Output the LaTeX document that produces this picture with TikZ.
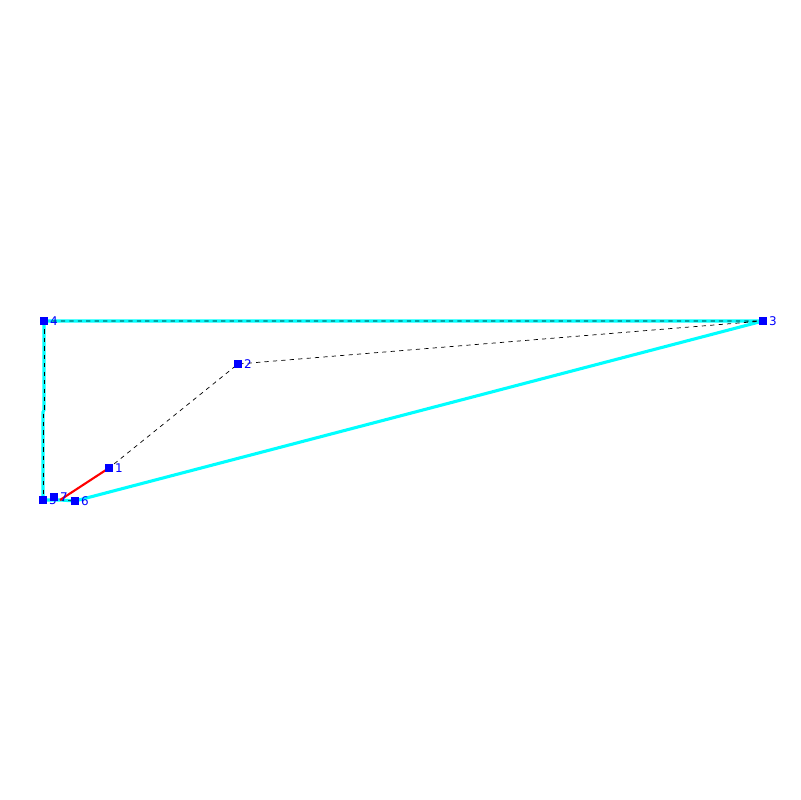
\documentclass[tikz,border=0pt]{standalone}
\usepackage{fontspec}
\setsansfont{DejaVu Sans}
\usetikzlibrary{positioning,backgrounds}
\definecolor{hullcyan}{RGB}{0,255,255}
\definecolor{ptblue}{RGB}{0,0,255}
\tikzset{
    x=0.025cm, y=-0.025cm,
    vertex/.style = {rectangle, fill=ptblue, inner sep=0pt, minimum size=6pt},
    lbl/.style = {right, inner sep=1pt, text=ptblue, font=\sffamily\fontsize{8.5}{8.5}\selectfont},
    hull/.style = {hullcyan, line width=2.2pt},
    trace/.style = {black, line width=0.5pt, dash pattern=on 3pt off 3pt},
    cut/.style = {red, line width=1.5pt}
}
\begin{document}
\begin{tikzpicture}
    \useasboundingbox (0,0) rectangle (800,800);

    \node[vertex] (p1) at (109,468) {};
    \node[vertex] (p2) at (238,364) {};
    \node[vertex] (p3) at (763,321) {};
    \node[vertex] (p4) at (44,321) {};
    \node[vertex] (p5) at (43,500) {};
    \node[vertex] (p6) at (75,501) {};
    \node[vertex] (p7) at (54,497) {};
    \coordinate (m) at (60,500);
    \coordinate (j1) at (44,410);
    \coordinate (j2) at (43,412);

    \begin{scope}[on background layer]
    \fill[white] (0,0) rectangle (800,800);
    % outline
    \draw[hull] (p3.center) -- (p4.center) -- (j1) -- (j2) -- (p5.center)
        -- (m) -- (p6.center) -- (p3.center);
    % route
    \draw[trace] (p4.center) -- (p3.center) -- (p2.center) -- (p1.center);
    \draw[trace] (p4.center) -- (j1) -- (j2) -- (p5.center);
    \draw[trace] (m) -- (p6.center);
    \draw[cut] (p1.center) -- (m);
    \end{scope}

    \node[lbl] at (p1.east) {1};
    \node[lbl] at (p2.east) {2};
    \node[lbl] at (p3.east) {3};
    \node[lbl] at (p4.east) {4};
    \node[lbl] at (p5.east) {5};
    \node[lbl] at (p6.east) {6};
    \node[lbl] at (p7.east) {7};
\end{tikzpicture}
\end{document}
